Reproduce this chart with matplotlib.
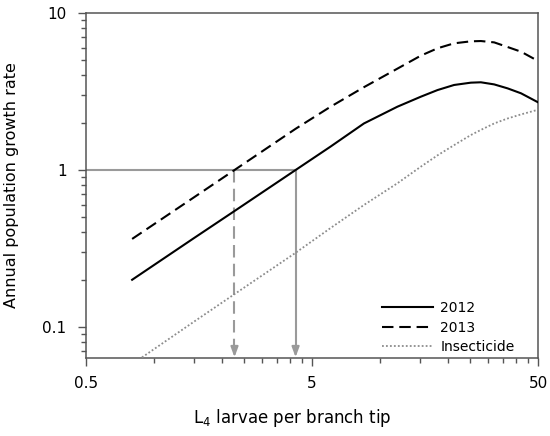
import numpy as np
import matplotlib
matplotlib.use("Agg")
import matplotlib.pyplot as plt
from matplotlib.ticker import FixedLocator, NullFormatter, FixedFormatter

# ---- data ----
larvae = [0.8, 1.5, 2.27, 4.23, 6.04, 8.49, 11.93, 15.15, 17.96, 21.26,
          25.22, 27.93, 31.99, 36.71, 42.06, 50.0]
rate_2012 = [0.20, 0.368, 0.548, 1.0, 1.41, 1.98, 2.53, 2.93, 3.23, 3.48,
             3.60, 3.62, 3.51, 3.31, 3.08, 2.70]
rate_2013 = [0.364, 0.669, 1.0, 1.83, 2.53, 3.37, 4.42, 5.35, 5.96, 6.41,
             6.60, 6.63, 6.50, 6.07, 5.67, 4.95]
rate_insecticide = [0.058, 0.108, 0.162, 0.297, 0.427, 0.599, 0.823, 1.05, 1.24, 1.44,
                    1.67, 1.80, 1.98, 2.13, 2.26, 2.42]
series_labels = ["2012", "2013", "Insecticide"]

threshold_rate = 1.0
threshold_2012 = 4.23
threshold_2013 = 2.27

x_major = [0.5, 5, 50]
x_major_labels = ["0.5", "5", "50"]
x_minor = [1, 1.5, 2, 2.5, 3, 3.5, 4, 4.5, 10, 15, 20, 25, 30, 35, 40, 45]
y_major = [0.1, 1, 10]
y_major_labels = ["0.1", "1", "10"]

# ---- figure ----
fig = plt.figure(figsize=(5.5, 4.36), dpi=100)
ax = fig.add_axes([86 / 550, 1 - 358 / 436, (538 - 86) / 550, (358 - 13) / 436])
ax.set_xscale("log")
ax.set_yscale("log")
ax.set_xlim(0.5, 50)
ax.set_ylim(0.0635, 10)

grey = "#9a9a9a"
# reference lines
ax.plot([0.5, threshold_2012], [threshold_rate, threshold_rate], color=grey, lw=1.5, zorder=1)
ax.plot([threshold_2012, threshold_2012], [threshold_rate, 0.072], color=grey, lw=1.5, zorder=1)
ax.plot([threshold_2013, threshold_2013], [threshold_rate, 0.072], color=grey, lw=1.5,
        dashes=(6, 3), zorder=1)
for xv in (threshold_2012, threshold_2013):
    ax.annotate("", xy=(xv, 0.0642), xytext=(xv, 0.0735),
                arrowprops=dict(arrowstyle="-|>,head_length=0.6,head_width=0.22",
                                color=grey, lw=1.5, shrinkA=0, shrinkB=0))

# curves
ax.plot(larvae, rate_2012, color="black", lw=1.5, label=series_labels[0], zorder=3)
ax.plot(larvae, rate_2013, color="black", lw=1.5, dashes=(5.5, 2.8),
        label=series_labels[1], zorder=3)
ax.plot(larvae, rate_insecticide, color="#8c8c8c", lw=1.3, linestyle=(0, (1, 1.2)),
        label=series_labels[2], zorder=3)

# ticks
ax.xaxis.set_major_locator(FixedLocator(x_major))
ax.xaxis.set_major_formatter(FixedFormatter(x_major_labels))
ax.xaxis.set_minor_locator(FixedLocator(x_minor))
ax.xaxis.set_minor_formatter(NullFormatter())
ax.yaxis.set_major_locator(FixedLocator(y_major))
ax.yaxis.set_major_formatter(FixedFormatter(y_major_labels))
ax.yaxis.set_minor_locator(FixedLocator([v * d for d in (0.01, 0.1, 1) for v in range(2, 10)]))
ax.yaxis.set_minor_formatter(NullFormatter())

spine_c = "#555555"
for s in ax.spines.values():
    s.set_color(spine_c)
    s.set_linewidth(1.1)
ax.tick_params(which="both", direction="out", top=False, right=False, color=spine_c, width=1.0)
ax.tick_params(which="major", length=6, labelsize=11)
ax.tick_params(axis="x", which="major", pad=7)
ax.tick_params(axis="y", which="major", pad=8)
ax.tick_params(which="minor", length=3.5)

ax.set_ylabel("Annual population growth rate", fontsize=11.5)
ax.yaxis.set_label_coords(-0.148, 0.5)
ax.set_xlabel(r"L$_4$ larvae per branch tip", fontsize=12)
ax.xaxis.set_label_coords(0.456, -0.143)

leg = ax.legend(loc="lower left", bbox_to_anchor=((382 - 86) / 452, 0.012), frameon=False,
                fontsize=10, handlelength=3.7, handletextpad=0.5, labelspacing=0.38,
                borderpad=0, borderaxespad=0)

fig.savefig("out.png", dpi=100)
